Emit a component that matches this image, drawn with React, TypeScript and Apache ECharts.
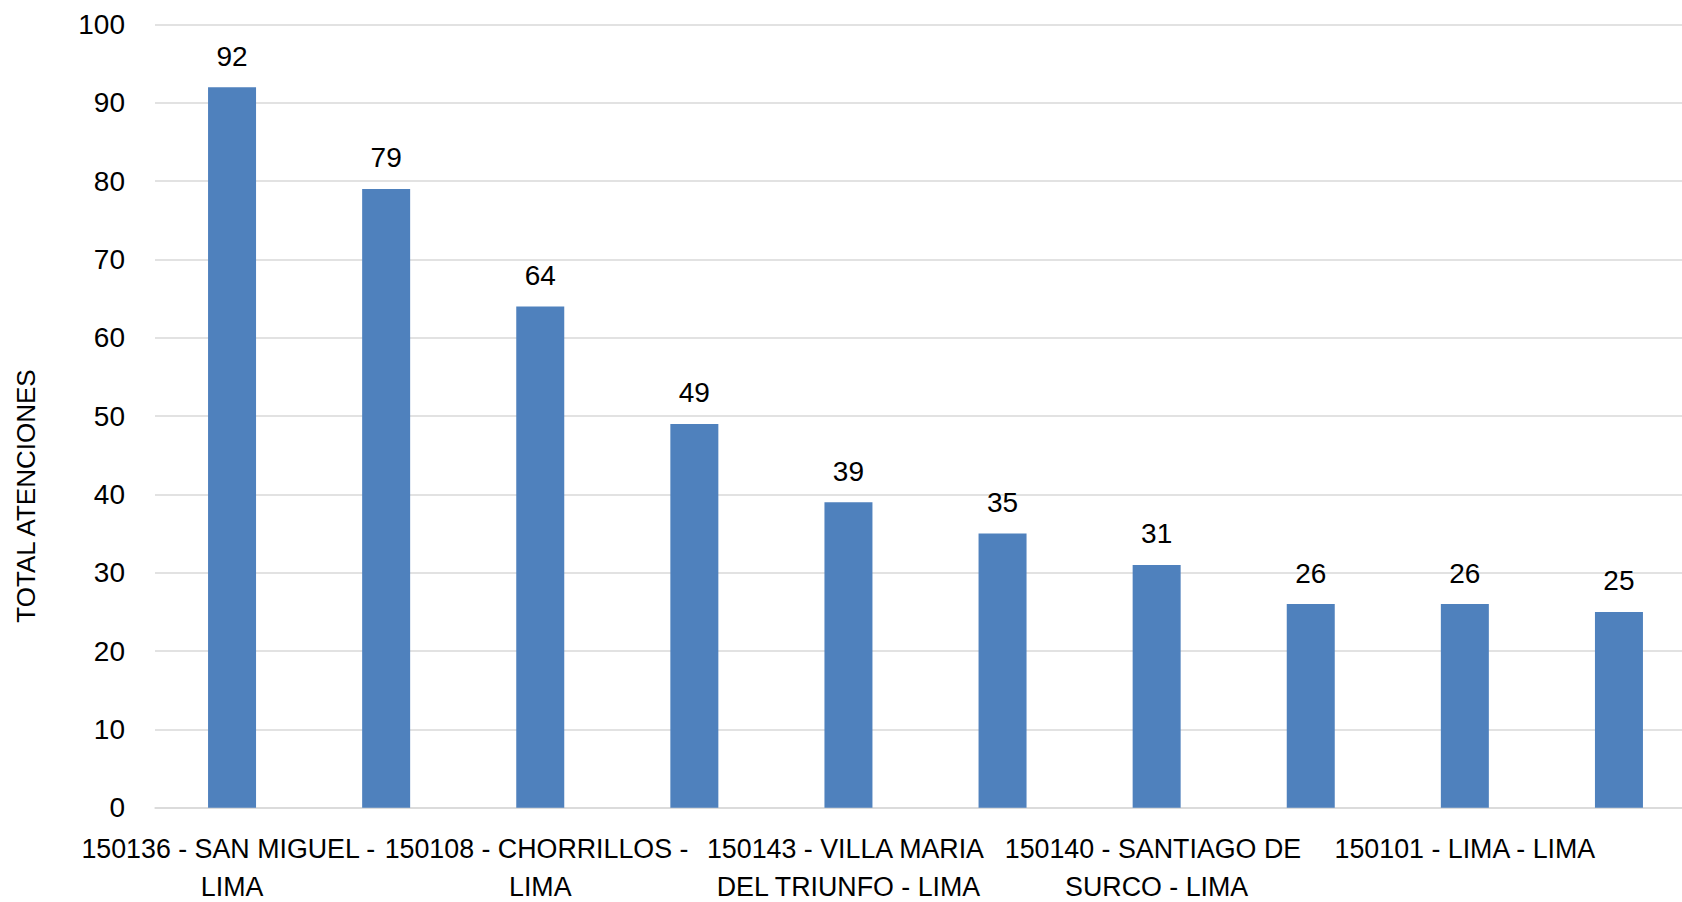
import React, { useEffect, useRef } from "react";
import * as echarts from "echarts";

// Only every other category label is visible in the reference; the hidden ones are unknown.
const categories: string[] = [
  "150136 - SAN MIGUEL - LIMA",
  "",
  "150108 - CHORRILLOS - LIMA",
  "",
  "150143 - VILLA MARIA DEL TRIUNFO - LIMA",
  "",
  "150140 - SANTIAGO DE SURCO - LIMA",
  "",
  "150101 - LIMA - LIMA",
  "",
];
const values: number[] = [92, 79, 64, 49, 39, 35, 31, 26, 26, 25];
const yTicks = { min: 0, max: 100, interval: 10 };
const yAxisTitle = "TOTAL ATENCIONES";

const FONT = "'Liberation Sans', Arial, sans-serif";

export default function App() {
  const ref = useRef<HTMLDivElement>(null);
  useEffect(() => {
    if (!ref.current) return;
    const chart = echarts.init(ref.current, undefined, { renderer: "svg" });
    chart.setOption({
      animation: false,
      textStyle: { fontFamily: FONT },
      grid: {
        left: 155,
        right: 0,
        top: 24.5,
        bottom: 94.3,
        containLabel: false,
        outerBoundsMode: "none",
      },
      xAxis: {
        type: "category",
        data: categories,
        axisLine: { show: true, lineStyle: { color: "#d9d9d9", width: 1.5 } },
        axisTick: { show: false },
        axisLabel: {
          interval: 0,
          hideOverlap: false,
          color: "#000",
          fontSize: 26.8,
          fontFamily: FONT,
          lineHeight: 38.5,
          margin: 22,
          width: 320,
          overflow: "break",
        },
      },
      yAxis: {
        type: "value",
        min: yTicks.min,
        max: yTicks.max,
        interval: yTicks.interval,
        axisLine: { show: false },
        axisTick: { show: false },
        splitLine: { lineStyle: { color: "#d9d9d9", width: 1.5 } },
        axisLabel: { color: "#000", fontSize: 28, fontFamily: FONT, margin: 30 },
      },
      graphic: [
        {
          type: "text",
          x: 26,
          y: 496,
          rotation: Math.PI / 2,
          style: {
            text: yAxisTitle,
            fill: "#000",
            fontSize: 26,
            fontFamily: FONT,
            align: "center",
            verticalAlign: "middle",
          },
        },
      ],
      series: [
        {
          type: "bar",
          data: values,
          barWidth: 48,
          itemStyle: { color: "#4F81BD" },
          label: {
            show: true,
            position: "top",
            distance: 17,
            color: "#000",
            fontSize: 28,
            fontFamily: FONT,
          },
        },
      ],
    });
    return () => chart.dispose();
  }, []);
  return (
    <div
      style={{
        position: "fixed",
        left: 0,
        top: 0,
        width: 1682,
        height: 902,
        overflow: "hidden",
        background: "#fff",
      }}
    >
      <div ref={ref} style={{ width: 1696, height: 902 }} />
    </div>
  );
}
